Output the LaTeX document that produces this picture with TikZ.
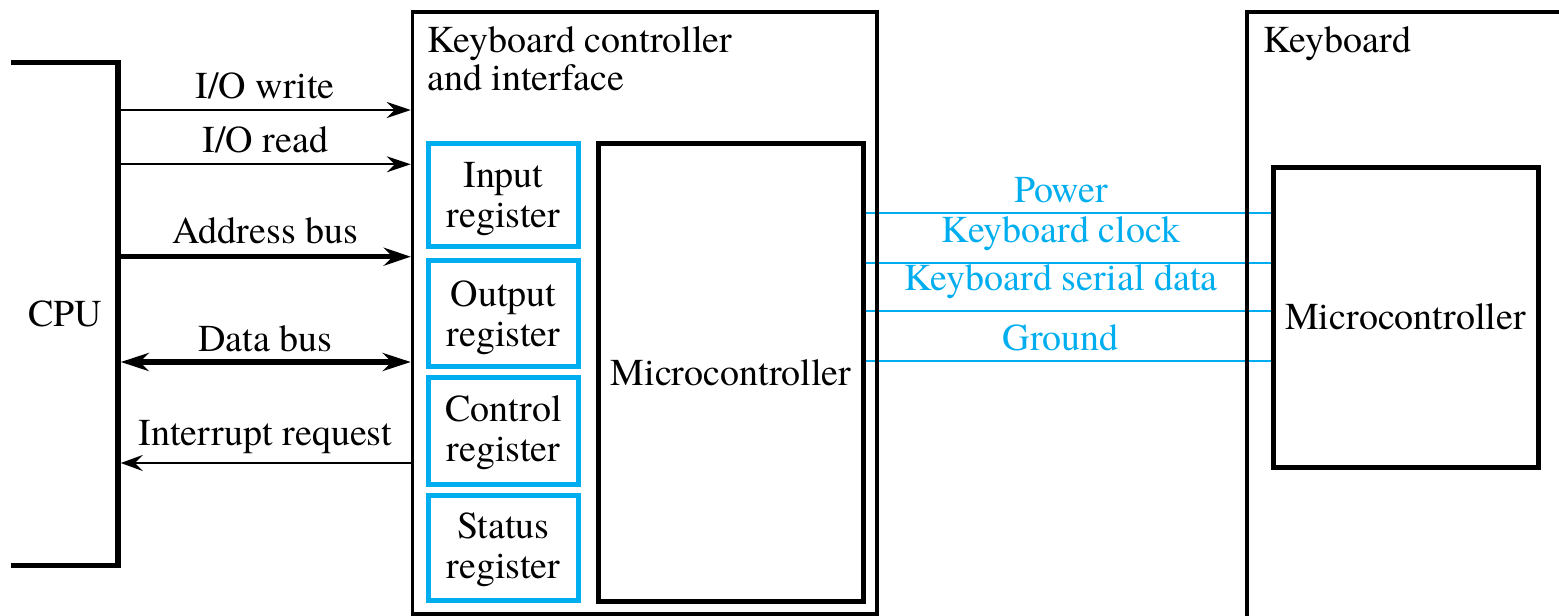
\documentclass[tikz,border=0pt]{standalone}
\usepackage{fontspec}
\setmainfont{TeX Gyre Termes}
\usetikzlibrary{arrows.meta}
\definecolor{cyanb}{RGB}{0,174,239}
\pgfdeclarelayer{bg}
\pgfsetlayers{bg,main}
\begin{document}
\begin{tikzpicture}[x=1pt,y=-1pt,
  txt/.style={font=\fontsize{38}{38}\selectfont, inner sep=0pt},
  box/.style={draw, inner sep=0pt, outer sep=0pt, anchor=north west},
  regbox/.style={box, draw=cyanb, line width=5pt, minimum width=150pt},
  regtext/.style={align=center, font=\fontsize{38}{40}\selectfont, inner sep=0pt},
  lab/.style={txt, anchor=base, pos=0.5},
  bluelab/.style={txt, anchor=base, pos=0.482, text=cyanb},
  thinarrow/.style={line width=2pt, -{Stealth[length=24pt,width=16pt,inset=8pt]}},
  thickarrow/.style={line width=5.5pt, -{Stealth[length=27pt,width=18pt,inset=9pt]}},
  bluewire/.style={draw=cyanb, line width=2.4pt}
]
\useasboundingbox (0,0) rectangle (1559,616);
\clip (0,0) rectangle (1559,616);

% CPU
\node[box, draw=none, minimum width=107pt, minimum height=503pt] (cpu) at (11,62.5) {};
\draw[line width=5.5pt] (cpu.north west) -- (cpu.north east) -- (cpu.south east) -- (cpu.south west);
\node[txt] (cputext) at (65,313.5) {CPU};

% Keyboard controller
\node[box, line width=3.5pt, minimum width=464.5pt, minimum height=602pt] (kbc) at (412.5,12) {};
\node[txt, anchor=north west, align=left] (kbctext) at (427,26) {Keyboard controller\\and interface};

\node[regbox, minimum height=103.5pt] (inreg) at (428.5,143) {};
\node[regbox, minimum height=106pt] (outreg) at (428.5,260.5) {};
\node[regbox, minimum height=107pt] (ctlreg) at (428.5,377.5) {};
\node[regbox, minimum height=105pt] (streg) at (428.5,495.5) {};
\node[regtext, yshift=-4pt] (inregt) at (inreg.center) {Input\\register};
\node[regtext, yshift=-4pt] (outregt) at (outreg.center) {Output\\register};
\node[regtext, yshift=-2pt] (ctlregt) at (ctlreg.center) {Control\\register};
\node[regtext, yshift=-2pt] (stregt) at (streg.center) {Status\\register};

\node[box, line width=5pt, minimum width=265pt, minimum height=458.5pt] (micro) at (598.5,143) {};
\node[txt] (microt) at (micro.center) {Microcontroller};

% Keyboard
\node[box, line width=4pt, minimum width=400pt, minimum height=700pt] (kb) at (1247,12) {};
\node[txt, anchor=base west] (kbt) at (1263,52) {Keyboard};
\node[box, line width=5pt, minimum width=265pt, minimum height=300pt] (kbmicro) at (1273,167) {};
\node[txt] (kbmicrot) at (kbmicro.center) {Microcontroller};

% CPU side connectors
\coordinate (yw) at (0,110);
\coordinate (yr) at (0,164.3);
\coordinate (ya) at (0,256.7);
\coordinate (yd) at (0,362);
\coordinate (yi) at (0,463);

\draw[thinarrow, shorten >=1.75pt] (cpu.east |- yw) -- (kbc.west |- yw)
  node[lab, yshift=11.7pt] {I/O write};
\draw[thinarrow, shorten >=1.75pt] (cpu.east |- yr) -- (kbc.west |- yr)
  node[lab, yshift=11.6pt] {I/O read};
\draw[thickarrow, shorten >=1.75pt] (cpu.east |- ya) -- (kbc.west |- ya)
  node[lab, yshift=13.4pt] {Address bus};
\draw[line width=5.5pt, {Stealth[length=28pt,width=18pt,inset=9pt]}-{Stealth[length=28pt,width=18pt,inset=9pt]}, shorten <=2.75pt, shorten >=1.75pt]
  (cpu.east |- yd) -- (kbc.west |- yd)
  node[lab, yshift=10.5pt] {Data bus};
\draw[line width=2pt, -{Stealth[length=22pt,width=16pt,inset=8pt]}, shorten >=2.75pt]
  (kbc.west |- yi) -- (cpu.east |- yi)
  node[lab, yshift=17.5pt] {Interrupt request};

% Keyboard wires
\coordinate (wp) at (0,212.7);
\coordinate (wc) at (0,262.7);
\coordinate (ws) at (0,310.7);
\coordinate (wg) at (0,361);
\begin{pgfonlayer}{bg}
\draw[bluewire] (micro.east |- wp) -- (kbmicro.west |- wp)
  node[bluelab, yshift=10pt] {Power};
\draw[bluewire] (micro.east |- wc) -- (kbmicro.west |- wc)
  node[bluelab, yshift=20pt] {Keyboard clock};
\draw[bluewire] (micro.east |- ws) -- (kbmicro.west |- ws)
  node[bluelab, yshift=20pt] {Keyboard serial data};
\draw[bluewire] (micro.east |- wg) -- (kbmicro.west |- wg)
  node[bluelab, yshift=11pt] {Ground};
\end{pgfonlayer}
\end{tikzpicture}
\end{document}
